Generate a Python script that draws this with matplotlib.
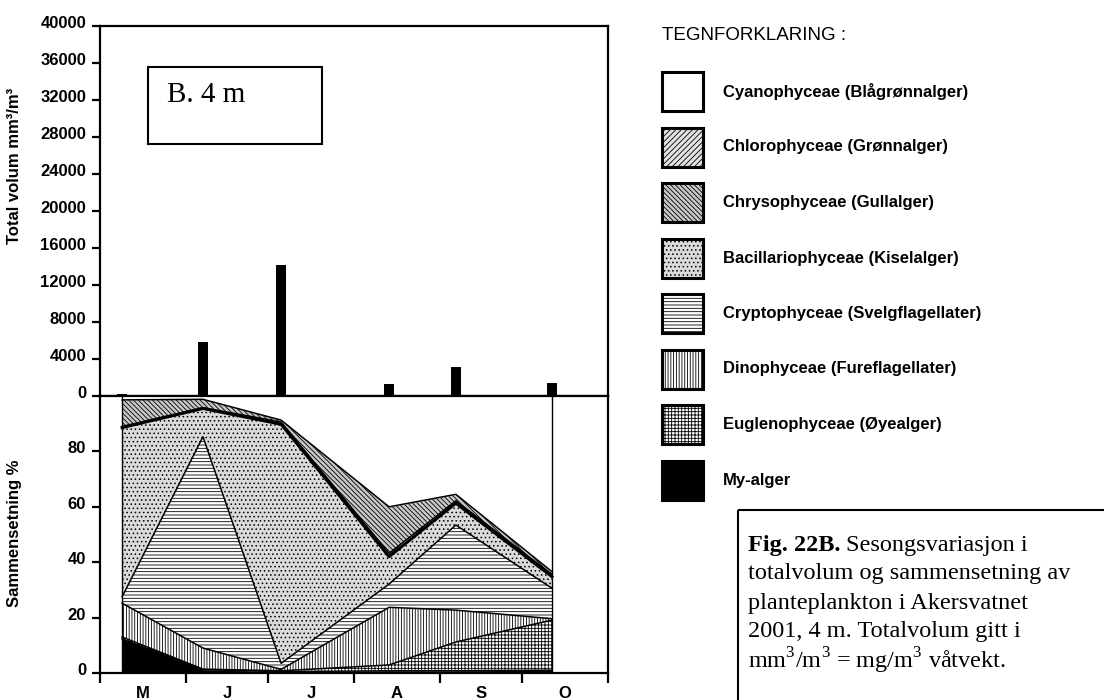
import matplotlib
matplotlib.use("Agg")
import matplotlib.pyplot as plt
from matplotlib.patches import Rectangle
from matplotlib.transforms import ScaledTranslation
import numpy as np

#---------------------------------------#
# DATA            #
#---------------------------------------#
# sampling days, counted from 1 May 2001
SAMPLE_DAYS = [8, 37.3, 65.6, 104.7, 128.9, 163.7]
# total volume mm3/m3 per sampling
TOTAL_VOLUME = [200, 5800, 14200, 1250, 3100, 1400]
# composition in percent per algae group
MY_ALGER = [12.3, 1.2, 0.5, 0.8, 0.8, 1.0]
EUGLENOPHYCEAE = [0.7, 0.2, 0.3, 2.1, 10.4, 18.1]
DINOPHYCEAE = [12.2, 7.6, 0.5, 20.8, 11.5, 0.5]
CRYPTOPHYCEAE = [2.3, 76.3, 2.2, 8.4, 30.7, 11.0]
BACILLARIOPHYCEAE = [61.1, 10.2, 86.3, 9.9, 7.9, 4.2]
CHLOROPHYCEAE = [0.4, 0.3, 0.8, 1.2, 0.9, 0.8]
CHRYSOPHYCEAE = [9.6, 3.0, 0.7, 16.8, 2.3, 1.0]
CYANOPHYCEAE = [1.4, 1.2, 8.7, 40.0, 35.5, 63.4]

# month boundaries (days from 1 May) and labels
MONTH_STARTS = [0, 31, 61, 92, 123, 153, 184]
MONTH_LABELS = ['M', 'J', 'J', 'A', 'S', 'O']

LEGEND_LABELS = ['Cyanophyceae (Blågrønnalger)',
                 'Chlorophyceae (Grønnalger)',
                 'Chrysophyceae (Gullalger)',
                 'Bacillariophyceae (Kiselalger)',
                 'Cryptophyceae (Svelgflagellater)',
                 'Dinophyceae (Fureflagellater)',
                 'Euglenophyceae (Øyealger)',
                 'My-alger']

#---------------------------------------#
# STYLE                                 #
#---------------------------------------#
W, H = 1104, 700
plt.rcParams['font.family'] = ['Liberation Sans', 'DejaVu Sans']
plt.rcParams['mathtext.fontset'] = 'custom'
plt.rcParams['mathtext.rm'] = 'Liberation Serif'
plt.rcParams['mathtext.bf'] = 'Liberation Serif:bold'
plt.rcParams['hatch.linewidth'] = 0.6

# (face colour, hatch) per group, same order as the legend
STYLES = {
    'cyano': ('white', None),
    'chloro': ('#e2e2e2', '//////'),
    'chryso': ('#c8c8c8', '\\\\\\\\\\\\\\'),
    'bacill': ('#dadada', '....'),
    'crypto': ('white', '-----'),
    'dino': ('white', '||||||'),
    'eugl': ('white', '+++++'),
    'my': ('black', None),
}
ORDER = ['cyano', 'chloro', 'chryso', 'bacill', 'crypto', 'dino', 'eugl', 'my']


def fx(x):
    return x / W


def fy(y):
    return 1 - y / H


fig = plt.figure(figsize=(W / 100, H / 100), dpi=100)
ax_top = fig.add_axes([fx(100), fy(396), 508 / W, 370 / H])
ax_bot = fig.add_axes([fx(100), fy(673), 508 / W, 277 / H])

shift_up = ScaledTranslation(0, 4 / 100, fig.dpi_scale_trans)

for ax in (ax_top, ax_bot):
    ax.set_xlim(MONTH_STARTS[0], MONTH_STARTS[-1])
    for s in ax.spines.values():
        s.set_linewidth(1.6)
    ax.tick_params(axis='y', direction='out', length=6, width=1.6, pad=4,
                   labelsize=12)

#---------------------------------------#
# TOP: total volume bars                #
#---------------------------------------#
ax_top.bar(SAMPLE_DAYS, TOTAL_VOLUME, width=3.8, color='black')
ax_top.set_ylim(0, 40000)
ax_top.set_yticks(range(0, 40001, 4000),
                  [str(v) for v in range(0, 40001, 4000)], fontweight='bold')
ax_top.set_xticks([])

#---------------------------------------#
# BOTTOM: composition stack             #
#---------------------------------------#
stack = [('my', MY_ALGER), ('eugl', EUGLENOPHYCEAE), ('dino', DINOPHYCEAE),
         ('crypto', CRYPTOPHYCEAE), ('bacill', BACILLARIOPHYCEAE),
         ('chloro', CHLOROPHYCEAE), ('chryso', CHRYSOPHYCEAE),
         ('cyano', CYANOPHYCEAE)]
lower = np.zeros(len(SAMPLE_DAYS))
for key, vals in stack:
    upper = lower + np.array(vals)
    face, hatch = STYLES[key]
    ax_bot.fill_between(SAMPLE_DAYS, lower, upper, facecolor=face,
                        hatch=hatch, edgecolor='black', linewidth=0)
    if key != 'cyano':
        # the diatom / green algae border is drawn heavier in the original
        lw = 2.2 if key == 'bacill' else 1.1
        ax_bot.plot(SAMPLE_DAYS, upper, color='black', lw=lw)
    lower = upper
ax_bot.vlines([SAMPLE_DAYS[0], SAMPLE_DAYS[-1]], 0, 100, color='black', lw=1)

ax_bot.set_ylim(0, 100)
ax_bot.set_yticks([0, 20, 40, 60, 80], ['0', '20', '40', '60', '80'],
                  fontweight='bold')
ax_bot.set_xticks(MONTH_STARTS, [''] * len(MONTH_STARTS))
mids = [(a + b) / 2 for a, b in zip(MONTH_STARTS[:-1], MONTH_STARTS[1:])]
ax_bot.set_xticks(mids, MONTH_LABELS, minor=True, fontweight='bold')
ax_bot.tick_params(axis='x', which='major', direction='out', length=7,
                   width=1.6)
ax_bot.tick_params(axis='x', which='minor', length=0, pad=9, labelsize=12)

for ax in (ax_top, ax_bot):
    for lab in ax.get_yticklabels():
        lab.set_transform(lab.get_transform() + shift_up)

fig.text(fx(15), fy(166), 'Total volum mm³/m³', rotation=90, ha='center',
         va='center', fontsize=12, fontweight='bold')
fig.text(fx(15), fy(533), 'Sammensetning %', rotation=90, ha='center',
         va='center', fontsize=12, fontweight='bold')

#---------------------------------------#
# PAGE: label box, legend, caption      #
#---------------------------------------#
page = fig.add_axes([0, 0, 1, 1])
page.set_xlim(0, W)
page.set_ylim(H, 0)
page.axis('off')
page.set_zorder(5)

page.add_patch(Rectangle((148, 67), 174, 77, fill=False, lw=1.5))
page.text(167, 95, 'B. 4 m', family='Liberation Serif', fontsize=21,
          va='center')

page.text(662, 35, 'TEGNFORKLARING :', fontsize=13.5, va='center')
for i, (key, label) in enumerate(zip(ORDER, LEGEND_LABELS)):
    yc = 91.5 + 55.5 * i
    face, hatch = STYLES[key]
    page.add_patch(Rectangle((662, yc - 19.5), 41, 39, facecolor=face,
                             hatch=hatch, edgecolor='black', lw=0))
    page.add_patch(Rectangle((662, yc - 19.5), 41, 39, fill=False,
                             edgecolor='black', lw=2.2))
    page.text(723, yc, label, fontsize=12, fontweight='bold', va='center')

page.add_patch(Rectangle((738, 510), 380, 210, fill=False, lw=1.5,
                         clip_on=False))
serif = dict(family='Liberation Serif', fontsize=17.5)
head = page.text(748, 545, 'Fig. 22B.', fontweight='bold', va='center',
                 **serif)
page.annotate('Sesongsvariasjon i', xy=(1, 0), xycoords=head,
              xytext=(4, 0), textcoords='offset points', va='bottom',
              **serif)
caption = ['totalvolum og sammensetning av',
           'planteplankton i Akersvatnet',
           '2001, 4 m. Totalvolum gitt i',
           r'mm$^3$/m$^3$ = mg/m$^3$ våtvekt.']
for i, line in enumerate(caption):
    page.text(748, 574 + 29 * i, line, va='center', **serif)

fig.savefig('out.png', dpi=100)
